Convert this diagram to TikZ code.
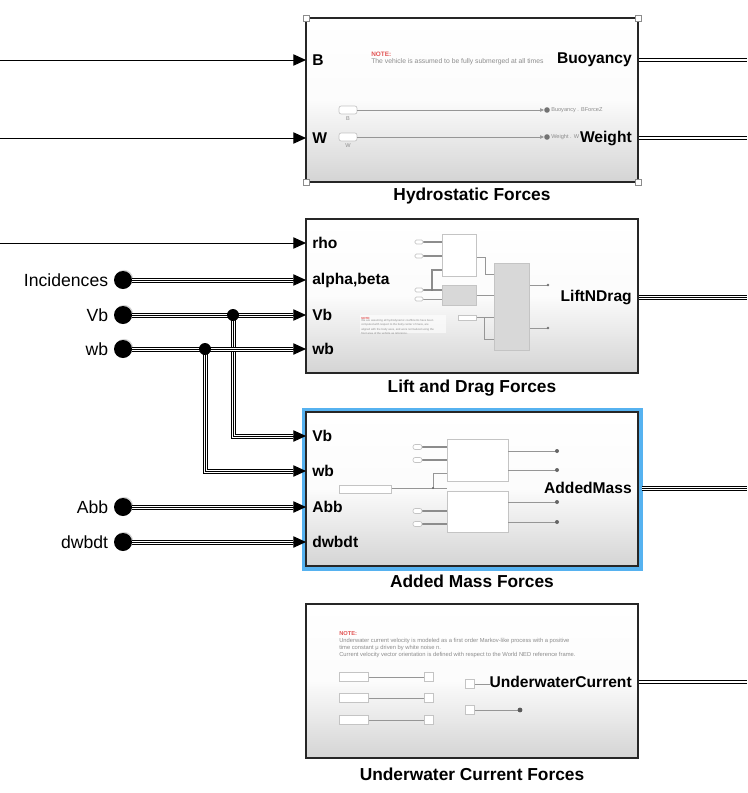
\documentclass[tikz,border=0pt]{standalone}
\usepackage{fontspec}
\setmainfont{Liberation Sans}
\usetikzlibrary{arrows.meta,shadows,positioning}

\definecolor{blockgray}{RGB}{212,212,212}
\definecolor{selblue}{RGB}{86,178,240}
\definecolor{notered}{RGB}{226,84,84}
\definecolor{thumbline}{RGB}{150,150,150}
\definecolor{thumbbox}{RGB}{196,196,196}
\definecolor{thumbfill}{RGB}{216,216,216}

\tikzset{
  block/.style={draw=black!85, line width=1pt, top color=white, bottom color=blockgray, middle color=white!92!blockgray},
  handle/.style={draw=black!45, fill=white, line width=0.5pt},
  scalar/.style={draw=black, line width=0.75pt},
  vecline/.style={draw=black, line width=3.75pt, postaction={draw=white, line width=2.25pt}, postaction={draw=black, line width=0.75pt}},
  busline/.style={draw=black, line width=0.75pt, double=white, double distance=1.1pt},
  inarr/.style={draw=black, line width=0.75pt, -{Triangle[length=9.5pt,width=8.5pt]}},
  srcdot/.style={circle, fill=black, minimum size=13.5pt, inner sep=0pt, drop shadow={opacity=0.35, shadow xshift=0.8pt, shadow yshift=0.8pt}},
  jdot/.style={circle, fill=black, minimum size=9pt, inner sep=0pt},
  srclab/.style={font=\fontsize{13.2}{15}\selectfont, inner sep=1pt},
  portlab/.style={font=\fontsize{11.7}{13}\selectfont\bfseries, inner sep=0.75pt},
  blocktitle/.style={font=\fontsize{13}{15}\selectfont\bfseries, inner sep=0.75pt},
  notehead/.style={font=\fontsize{4.8}{5.5}\selectfont\bfseries, text=notered, inner sep=0pt, anchor=west},
  notebody/.style={font=\fontsize{5.1}{5.8}\selectfont, text=black!45, inner sep=0pt, anchor=west},
  tinytext/.style={font=\fontsize{4.2}{5}\selectfont, text=black!45, inner sep=0pt},
  thin/.style={draw=thumbline, line width=0.5pt},
  thick/.style={draw=black!45, line width=1pt},
  pill/.style={draw=thumbbox, fill=white, line width=0.5pt, rounded corners=1.6pt},
  tbox/.style={draw=thumbbox, fill=white, line width=0.5pt},
  gbox/.style={draw=thumbbox, fill=thumbfill, line width=0.5pt}
}

\begin{document}
\begin{tikzpicture}[x=0.75pt,y=0.75pt,yscale=-1,xscale=1]
\useasboundingbox (0,0) rectangle (747,793);

%Shape: Rectangle [Hydrostatic Forces]
\draw[block] (306,18) rectangle (638,182);
\foreach \cx/\cy in {306/18,638/18,306/182,638/182}
  \draw[handle] (\cx-3,\cy-3) rectangle (\cx+3,\cy+3);
%Shape: Rectangle [Lift and Drag Forces]
\draw[block] (306,219) rectangle (638,373);
%Shape: Rectangle [Added Mass Forces]
\draw[selblue, line width=3pt] (304,409.5) rectangle (640.5,568.5);
\draw[block] (306,412) rectangle (638,566);
%Shape: Rectangle [Underwater Current Forces]
\draw[block] (306,604) rectangle (638,758);

% Titles
\node[blocktitle] (thydro) at (472,196) {Hydrostatic Forces};
\node[blocktitle] (tlift) at (472,388) {Lift and Drag Forces};
\node[blocktitle] (tadded) at (472,581) {Added Mass Forces};
\node[blocktitle] (tcurrent) at (472,774) {Underwater Current Forces};

% Hydrostatic contents
\node[notehead] (hnote) at (371,54) {NOTE:};
\node[notebody] (htext) at (371,62) {The vehicle is assumed to be fully submerged at all times};
\draw[pill] (339,106) rectangle (357,114);
\draw[pill] (339,133) rectangle (357,141);
\node[tinytext] (hpB) at (348,119) {B};
\node[tinytext] (hpW) at (348,146) {W};
\draw[thin, -{Triangle[length=3pt,width=2.6pt]}] (357,110) -- (544,110);
\draw[thin, -{Triangle[length=3pt,width=2.6pt]}] (357,137) -- (544,137);
\fill[black!55] (547,110) circle (2.1pt);
\fill[black!55] (547,137) circle (2.1pt);
\node[tinytext, anchor=west] (hgB) at (551,110) {Buoyancy . BForceZ};
\node[tinytext, anchor=west] (hgW) at (551,137) {Weight . W};

% Lift and Drag contents
\draw[thick] (423,242) -- (442,242);
\draw[thick] (423,256) -- (442,256);
\draw[thick] (423,290) -- (442,290);
\draw[thin] (423,299) -- (442,299);
\draw[thick] (432,290) |- (442,270);
\draw[thin] (476,257) -- (485,257) |- (494,274);
\draw[thin] (476,295) -- (494,295);
\draw[thin] (476,317) -- (484,317) |- (494,339);
\draw[thin] (484,317) -- (494,317);
\draw[thin] (529,285) -- (548,285);
\draw[thin] (529,328) -- (548,328);
\fill[black!55] (548,285) circle (1.1pt);
\fill[black!55] (548,328) circle (1.1pt);
\fill[black!55] (432,290) circle (0.6pt);
\draw[tbox] (442,234) rectangle (476,276);
\draw[gbox] (442,285) rectangle (476,305);
\draw[gbox] (494,263) rectangle (529,350);
\draw[tbox] (458,315) rectangle (476,320);
\foreach \py in {242,256,290,299}
  \draw[pill, rounded corners=1pt] (415,\py-2) rectangle (423,\py+2);
\fill[white, opacity=0.6] (360,315) rectangle (446,333);
\node[font=\fontsize{2.2}{3}\selectfont\bfseries, text=notered, inner sep=0pt, anchor=west] (lnote) at (361,318) {NOTE:};
\node[font=\fontsize{2.1}{3.1}\selectfont, text=black!45, inner sep=0pt, anchor=north west, align=left] (ltext) at (361,319.5)
  {We are assuming all hydrodynamic coefficients have been\\computed with respect to the body center of mass, are\\aligned with the body axes, and were normalized using the\\front area of the vehicle as reference.};

% Added Mass contents
\foreach \py in {447,460,511,524}
  \draw[thick] (422,\py) -- (447,\py);
\draw[thin] (391,488) -- (447,488);
\draw[thin] (433,488) |- (447,473);
\fill[black!60] (433,488) circle (0.8pt);
\draw[tbox] (447,439) rectangle (508,481);
\draw[tbox] (447,491) rectangle (508,532);
\draw[tbox] (339,485) rectangle (391,493);
\foreach \py in {447,460,511,524}
  \draw[pill] (413,\py-2.5) rectangle (422,\py+2.5);
\foreach \py in {451,470,502,522} {
  \draw[thin] (508,\py) -- (557,\py);
  \fill[black!60] (557,\py) circle (1.5pt);
}

% Underwater Current contents
\node[notehead, font=\fontsize{4.3}{5}\selectfont\bfseries] (unote) at (339,634) {NOTE:};
\node[notebody, font=\fontsize{4.35}{5.3}\selectfont, anchor=north west, align=left] (utext) at (339,638)
  {Underwater current velocity is modeled as a first order Markov-like process with a positive\\time constant μ driven by white noise n.\\Current velocity vector orientation is defined with respect to the World NED reference frame.};
\foreach \py in {677,698,720} {
  \draw[thin] (368,\py) -- (424,\py);
  \draw[tbox] (339,\py-4.5) rectangle (368,\py+4.5);
  \draw[tbox] (424,\py-4.5) rectangle (433,\py+4.5);
}
\draw[thin] (474,684) -- (490,684);
\draw[thin] (474,710) -- (520,710);
\fill[black!65] (520,710) circle (1.8pt);
\draw[tbox] (465,679.5) rectangle (474,688.5);
\draw[tbox] (465,705.5) rectangle (474,714.5);

% Port Labels
\node[portlab, anchor=west] (pB) at (311,60) {B};
\node[portlab, anchor=west] (pW) at (311,138) {W};
\node[portlab, anchor=east] (pBuoy) at (633,60) {Buoyancy};
\node[portlab, anchor=east] (pWeight) at (633,138) {Weight};
\node[portlab, anchor=west] (prho) at (311,243) {rho};
\node[portlab, anchor=west] (palpha) at (311,280) {alpha,beta};
\node[portlab, anchor=west] (pVbL) at (311,315) {Vb};
\node[portlab, anchor=west] (pwbL) at (311,349) {wb};
\node[portlab, anchor=east] (pLND) at (633,297) {LiftNDrag};
\node[portlab, anchor=west] (pVbA) at (311,436) {Vb};
\node[portlab, anchor=west] (pwbA) at (311,471) {wb};
\node[portlab, anchor=west] (pAbb) at (311,507) {Abb};
\node[portlab, anchor=west] (pdwb) at (311,542) {dwbdt};
\node[portlab, anchor=east] (pAM) at (633,488) {AddedMass};
\node[portlab, anchor=east] (pUC) at (633,682) {UnderwaterCurrent};

% Port Coordinates
\coordinate (inB) at (0,60);      \coordinate (aB) at (293,60);
\coordinate (inW) at (0,138);     \coordinate (aW) at (293,138);
\coordinate (inrho) at (0,243);   \coordinate (arho) at (293,243);
\coordinate (aalpha) at (293,280);
\coordinate (aVbL) at (293,315);
\coordinate (awbL) at (293,349);
\coordinate (aVbA) at (293,436);
\coordinate (awbA) at (293,471);
\coordinate (aAbb) at (293,507);
\coordinate (adwb) at (293,542);
\coordinate (oBuoy) at (639,60);  \coordinate (eBuoy) at (747,60);
\coordinate (oWeight) at (639,138); \coordinate (eWeight) at (747,138);
\coordinate (oLND) at (639,297);  \coordinate (eLND) at (747,297);
\coordinate (oAM) at (642,488);   \coordinate (eAM) at (747,488);
\coordinate (oUC) at (639,682);   \coordinate (eUC) at (747,682);
\coordinate (jVb) at (233,315);
\coordinate (jwb) at (205,349);

% Source Signals
\node[srcdot] (sIncid) at (123,280) {};
\node[srcdot] (sVb) at (123,315) {};
\node[srcdot] (swb) at (123,349) {};
\node[srcdot] (sAbb) at (123,507) {};
\node[srcdot] (sdwb) at (123,542) {};
\node[srclab, left=3pt of sIncid] (lIncid) {Incidences};
\node[srclab, left=3pt of sVb] (lVb) {Vb};
\node[srclab, left=3pt of swb] (lwb) {wb};
\node[srclab, left=3pt of sAbb] (lAbb) {Abb};
\node[srclab, left=3pt of sdwb] (ldwb) {dwbdt};

%Straight Lines
\draw[scalar] (inB) -- (aB);
\draw[scalar] (inW) -- (aW);
\draw[scalar] (inrho) -- (arho);
\draw[vecline] (sIncid) -- (aalpha);
\draw[vecline] (jVb) |- (aVbA);
\draw[vecline] (jwb) |- (awbA);
\draw[vecline] (sVb) -- (aVbL);
\draw[vecline] (swb) -- (awbL);
\draw[vecline] (sAbb) -- (aAbb);
\draw[vecline] (sdwb) -- (adwb);
\node[jdot] (dVb) at (jVb) {};
\node[jdot] (dwb) at (jwb) {};

% Input Arrows
\foreach \p in {aB,aW,arho,aalpha,aVbL,awbL,aVbA,awbA,aAbb,adwb}
  \draw[inarr] (\p) -- ++(13,0);

% Output Lines
\draw[busline] (oBuoy) -- (eBuoy);
\draw[busline] (oWeight) -- (eWeight);
\draw[vecline] (oLND) -- (eLND);
\draw[vecline] (oAM) -- (eAM);
\draw[busline] (oUC) -- (eUC);

\end{tikzpicture}
\end{document}
